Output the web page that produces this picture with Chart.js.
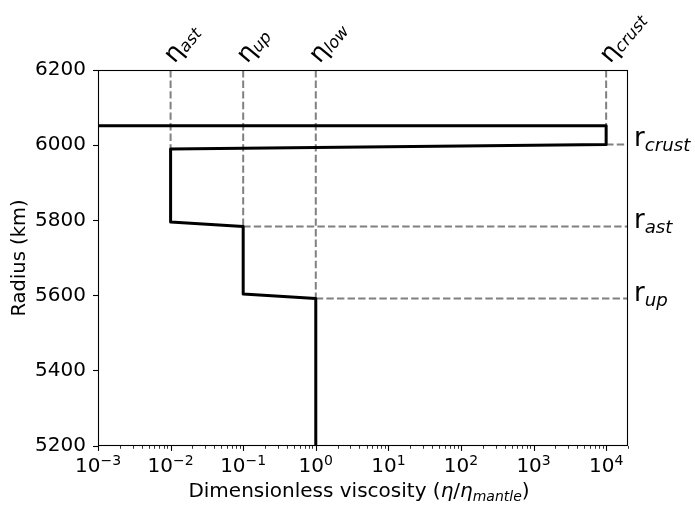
<!DOCTYPE html>
<html>
<head>
<meta charset="utf-8">
<script src="https://cdn.jsdelivr.net/npm/chart.js@4/dist/chart.umd.min.js"></script>
<style>
  html, body { margin: 0; padding: 0; background: #fff; }
  #wrap { width: 695px; height: 507px; }
</style>
</head>
<body>
<div id="wrap"><canvas id="grafico" width="695" height="507"></canvas></div>
<script>
// viscosity profile (dimensionless) vs radius (km)
const profileVisc = [1e-3, 1e4, 1e4, 1e-2, 1e-2, 1e-1, 1e-1, 1, 1]
const profileRadius = [6052, 6052, 6002, 5990, 5796, 5784, 5604, 5592, 5200]

// vertical guides: eta levels and where each guide meets the profile
const etaLevels = [1e-2, 1e-1, 1, 1e4]
const etaNames = ['ast', 'up', 'low', 'crust']
const etaGuideEnd = [5990, 5784, 5592, 6052]

// horizontal guides: radius levels and where each guide starts
const rLevels = [6002, 5784, 5592]
const rNames = ['crust', 'ast', 'up']
const rGuideStart = [1e4, 1e-1, 1]

const xMin = 1e-3
const xMax = 2e4
const yMin = 5200
const yMax = 6200
const xTickExps = [-3, -2, -1, 0, 1, 2, 3, 4]

const FONT = '"DejaVu Sans"'
const GRAY = '#808080'

let datasets = [{
    data: profileVisc.map((v, i) => ({ x: v, y: profileRadius[i] })),
    borderColor: '#000',
    borderWidth: 3,
    borderJoinStyle: 'round',
    pointRadius: 0,
    showLine: true,
    clip: 0
}]

for (let i = 0; i < etaLevels.length; i++) {
    datasets.push({
        data: [{ x: etaLevels[i], y: yMax }, { x: etaLevels[i], y: etaGuideEnd[i] }],
        borderColor: GRAY,
        borderWidth: 2,
        borderDash: [7.4, 3.2],
        pointRadius: 0,
        showLine: true,
        clip: 0
    })
}
for (let i = 0; i < rLevels.length; i++) {
    datasets.push({
        data: [{ x: rGuideStart[i], y: rLevels[i] }, { x: xMax, y: rLevels[i] }],
        borderColor: GRAY,
        borderWidth: 2,
        borderDash: [7.4, 3.2],
        pointRadius: 0,
        showLine: true,
        clip: 0
    })
}

// text made of pieces (normal / italic / shifted for sub and sup)
function richWidth(ctx, parts) {
    let w = 0
    for (const p of parts) {
        ctx.font = (p.italic ? 'italic ' : '') + p.size + 'px ' + FONT
        w += ctx.measureText(p.text).width
    }
    return w
}
function drawRich(ctx, parts, x, y) {
    for (const p of parts) {
        ctx.font = (p.italic ? 'italic ' : '') + p.size + 'px ' + FONT
        ctx.fillText(p.text, x, y + (p.dy || 0))
        x += ctx.measureText(p.text).width
    }
}

const extras = {
    id: 'extras',
    afterDraw(chart) {
        const ctx = chart.ctx
        const a = chart.chartArea
        const xs = chart.scales.x
        const ys = chart.scales.y
        ctx.save()
        ctx.fillStyle = '#000'
        ctx.strokeStyle = '#000'
        ctx.textBaseline = 'alphabetic'
        ctx.textAlign = 'left'

        // frame
        ctx.lineWidth = 1.1
        ctx.strokeRect(a.left + 0.5, a.top + 0.5, a.right - a.left - 1, a.bottom - a.top - 1)

        // x ticks, major + minor
        for (let e = -3; e <= 4; e++) {
            for (let m = 1; m <= 9; m++) {
                const v = m * Math.pow(10, e)
                if (v > xMax * 1.0001) continue
                const px = Math.round(xs.getPixelForValue(v)) + 0.5
                ctx.beginPath()
                ctx.lineWidth = m === 1 ? 1.1 : 0.8
                ctx.moveTo(px, a.bottom)
                ctx.lineTo(px, a.bottom + (m === 1 ? 4.9 : 2.8))
                ctx.stroke()
            }
        }
        // x tick labels 10^n
        for (const e of xTickExps) {
            const px = xs.getPixelForValue(Math.pow(10, e))
            const parts = [
                { text: '10', size: 20 },
                { text: (e < 0 ? '\u2212' : '') + Math.abs(e), size: 14, dy: -7.5 }
            ]
            const w = richWidth(ctx, parts)
            drawRich(ctx, parts, px - w / 2, 472)
        }

        // x axis title
        const xt = [
            { text: 'Dimensionless viscosity (', size: 20 },
            { text: '\u03b7', size: 20, italic: true },
            { text: '/', size: 20 },
            { text: '\u03b7', size: 20, italic: true },
            { text: 'mantle', size: 14, italic: true, dy: 4 },
            { text: ')', size: 20 }
        ]
        const xw = richWidth(ctx, xt)
        drawRich(ctx, xt, (a.left + a.right) / 2 - 4 - xw / 2, 497)

        // eta labels above the frame, rotated
        for (let i = 0; i < etaLevels.length; i++) {
            const px = xs.getPixelForValue(etaLevels[i])
            ctx.save()
            ctx.translate(px + 4, 64)
            ctx.rotate(-50 * Math.PI / 180)
            drawRich(ctx, [
                { text: '\u03b7', size: 25 },
                { text: etaNames[i], size: 16.5, italic: true, dy: 2 }
            ], 0, 0)
            ctx.restore()
        }

        // r labels on the right
        for (let i = 0; i < rLevels.length; i++) {
            const py = ys.getPixelForValue(rLevels[i])
            drawRich(ctx, [
                { text: 'r', size: 26 },
                { text: rNames[i], size: 18.2, italic: true, dy: 5 }
            ], 634, py + 2)
        }
        ctx.restore()
    }
}

new Chart(document.getElementById('grafico').getContext('2d'), {
    type: 'scatter',
    data: { datasets: datasets },
    options: {
        responsive: false,
        animation: false,
        events: [],
        layout: { padding: { top: 70, right: 67, left: 0, bottom: 0 } },
        plugins: { legend: { display: false }, tooltip: { enabled: false } },
        scales: {
            x: {
                type: 'logarithmic',
                min: xMin,
                max: xMax,
                ticks: { display: false },
                grid: { display: false },
                border: { display: false },
                afterFit: (s) => { s.height = 61 }
            },
            y: {
                type: 'linear',
                min: yMin,
                max: yMax,
                ticks: {
                    stepSize: 200,
                    color: '#000',
                    padding: 7,
                    font: { family: FONT, size: 20 },
                    callback: (v) => String(v)
                },
                grid: {
                    drawOnChartArea: false,
                    drawTicks: true,
                    tickLength: 5,
                    tickColor: '#000',
                    tickWidth: 1.1
                },
                border: { display: false },
                title: {
                    display: true,
                    text: 'Radius (km)',
                    color: '#000',
                    font: { family: FONT, size: 19.5 },
                    padding: { top: 8, bottom: 0 }
                },
                afterFit: (s) => { s.width = 98 }
            }
        }
    },
    plugins: [extras]
})
</script>
</body>
</html>
